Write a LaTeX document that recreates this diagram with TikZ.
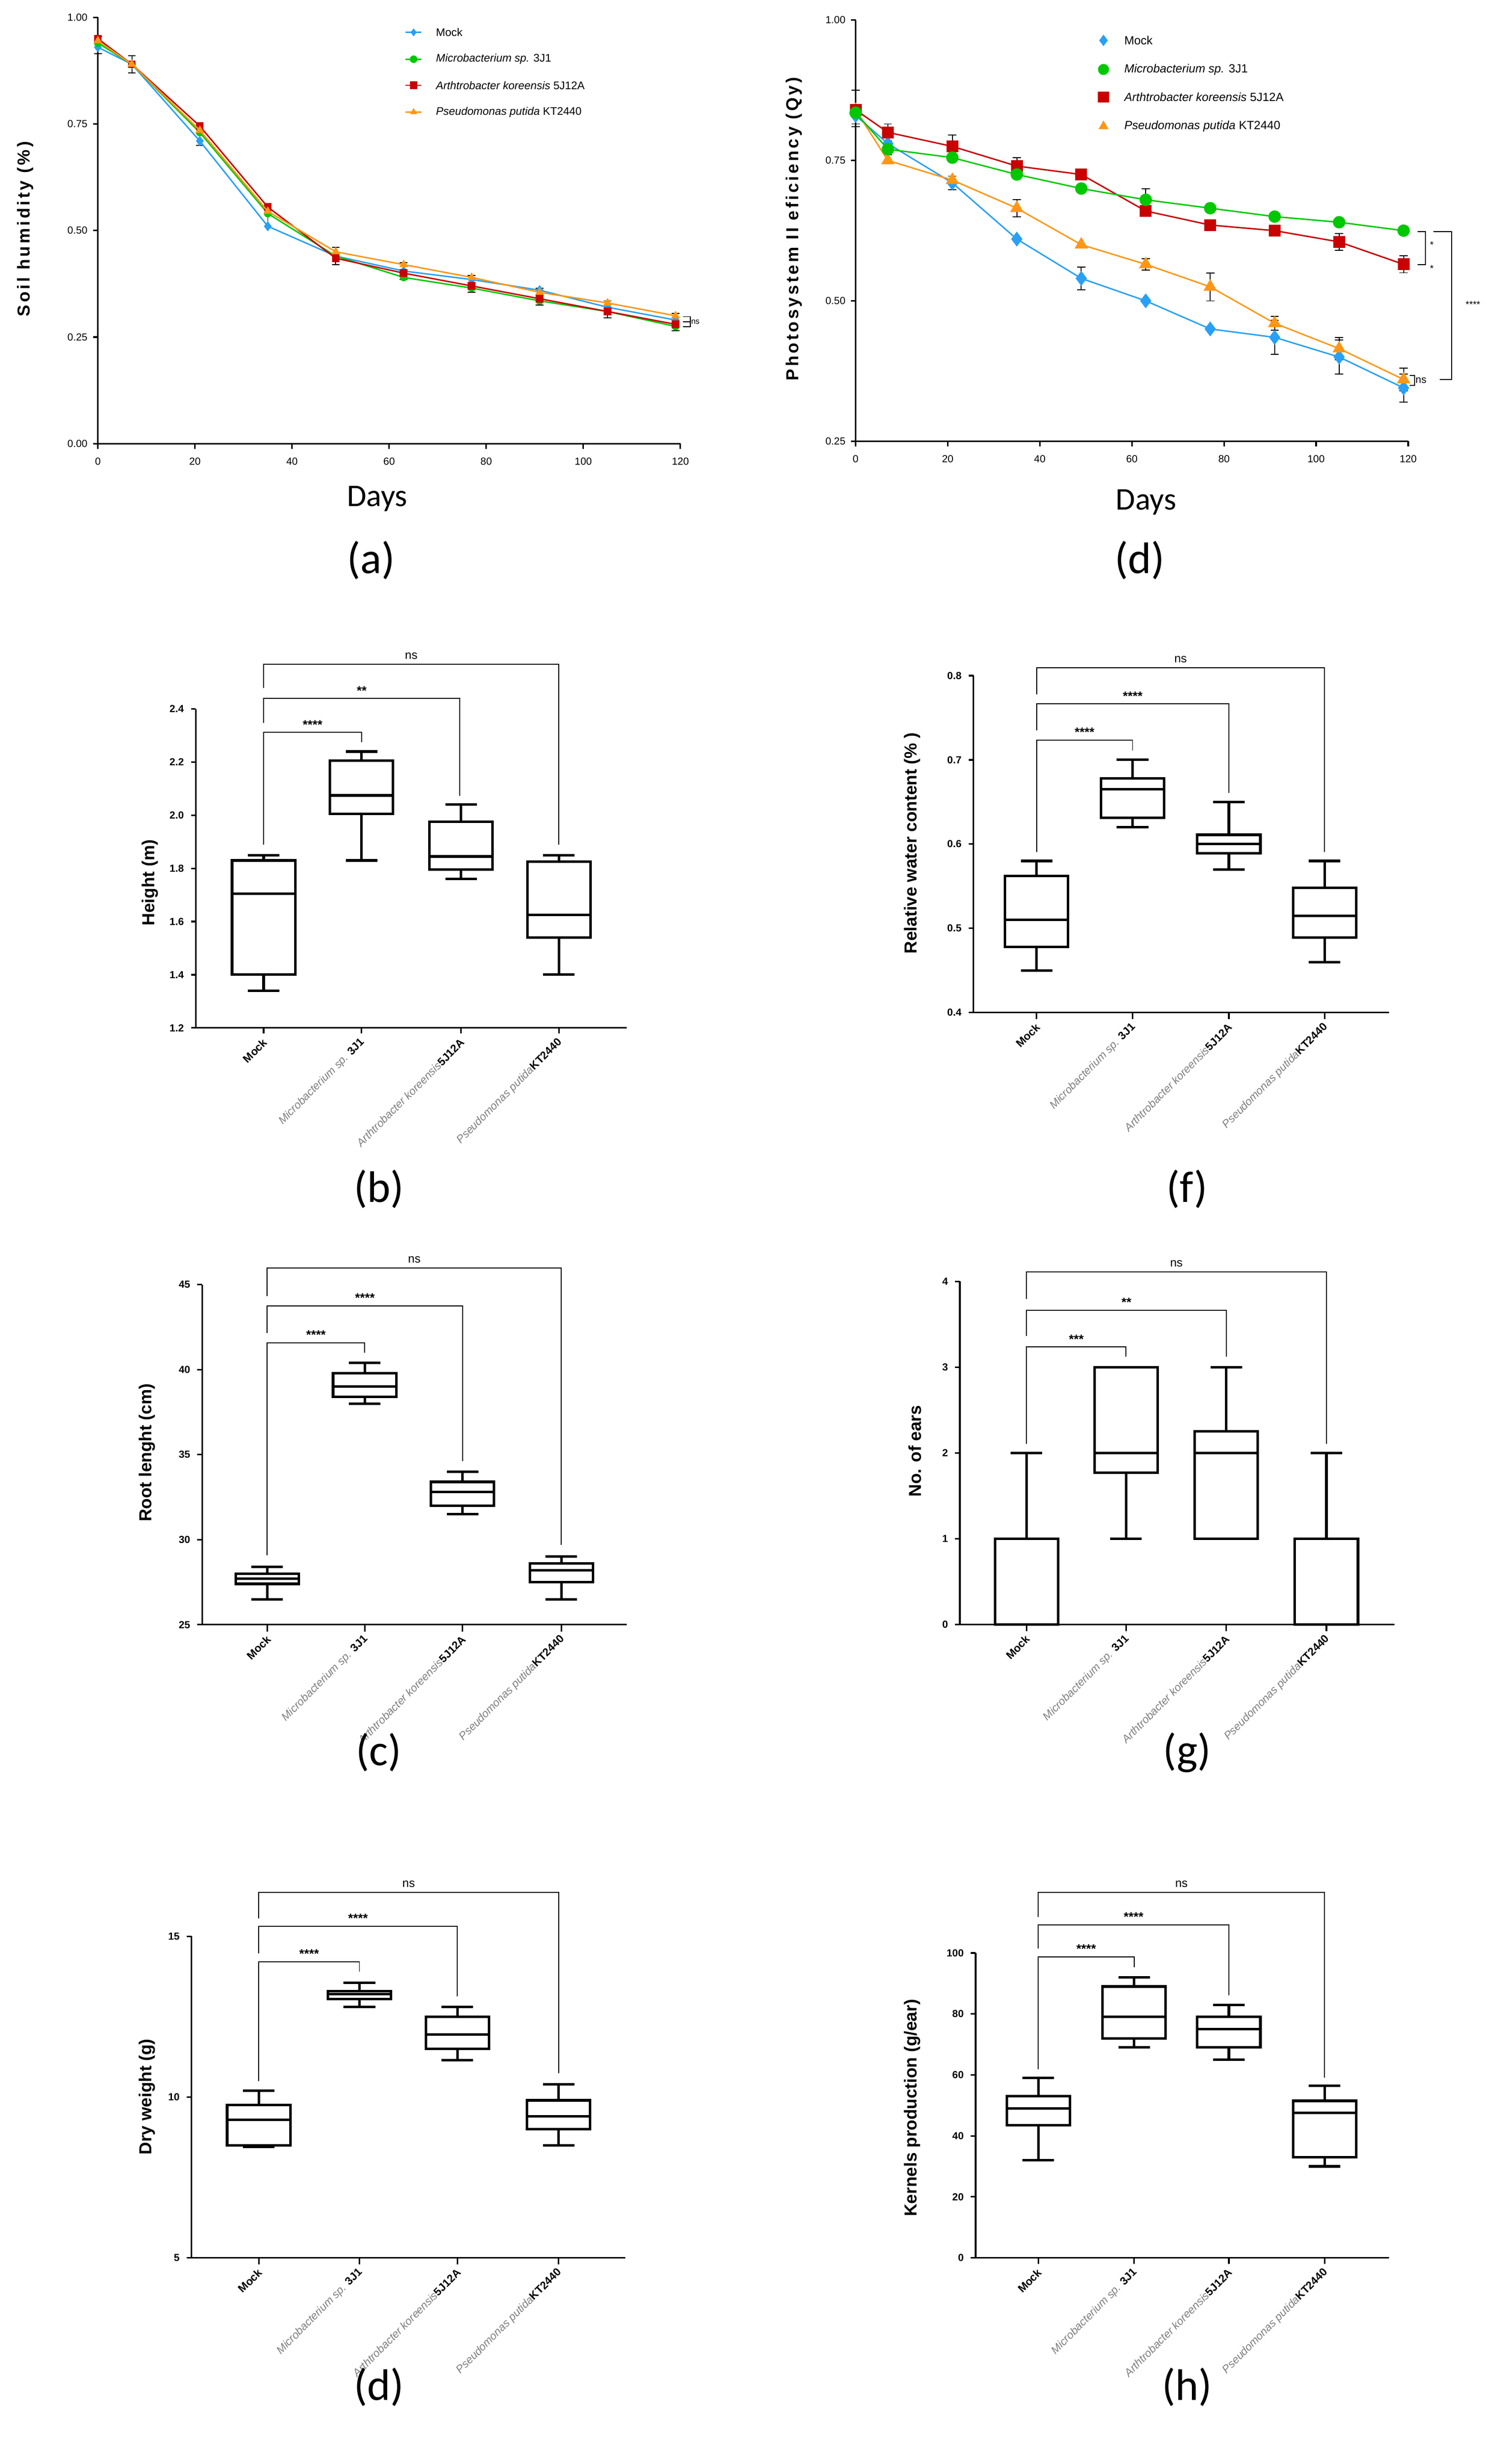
\documentclass[tikz,border=0pt]{standalone}
\usepackage{fontspec}
\setmainfont{Liberation Sans}
\newfontfamily\carl{Carlito}
\newfontfamily\spaced{Liberation Sans}[LetterSpace=14]
\usetikzlibrary{plotmarks}
\definecolor{cMock}{RGB}{40,160,245}
\definecolor{cMic}{RGB}{0,200,0}
\definecolor{cArt}{RGB}{200,0,0}
\definecolor{cPse}{RGB}{255,150,20}
\tikzset{
 axl/.style={line width=1pt,black},
 boxl/.style={line width=1.6pt,black},
 brk/.style={line width=0.6pt,black},
 tk/.style={font=\fontsize{6.5}{7}\selectfont\bfseries},
 ltk/.style={font=\fontsize{6.5}{7}\selectfont},
 cat/.style={rotate=45,anchor=east,inner sep=0pt,font=\fontsize{7}{7}\selectfont},
 ylab/.style={rotate=90,font=\fontsize{11}{12}\selectfont\bfseries},
 plab/.style={font=\carl\fontsize{28}{30}\selectfont},
 star/.style={font=\fontsize{8}{9}\selectfont\bfseries,inner sep=1pt},
 ser/.style={line width=0.9pt},
}
\newcommand\bx[6]{%
 \draw[boxl] (#1-10,#2) -- (#1+10,#2) (#1,#2) -- (#1,#3) (#1,#5) -- (#1,#6) (#1-10,#6) -- (#1+10,#6);
 \draw[boxl] (#1-20,#3) rectangle (#1+20,#5);
 \draw[boxl] (#1-20,#4) -- (#1+20,#4);}
\newcommand\cats[5]{%
 \node[cat] (m#1) at (#2+1,#1+8) {\textbf{Mock}};
 \node[cat] (b#1) at (#3+1,#1+8) {\textcolor{gray}{\textit{Microbacterium sp.}} \textbf{3J1}};
 \node[cat] (c#1) at (#4+1,#1+8) {\textcolor{gray}{\textit{Arthtrobacter koreensis}}\textbf{5J12A}};
 \node[cat] (d#1) at (#5+1,#1+8) {\textcolor{gray}{\textit{Pseudomonas putida}}\textbf{KT2440}};}
\newcommand\brackets[9]{%
 \foreach \ae/\pe/\me/\sa/\sb/\ga/\gb in {#9}{
 \draw[brk] (#1,\ga) -- (#1,#5) -- (#4,#5) -- (#4,\pe);
 \draw[brk] (#1,\gb) -- (#1,#6) -- (#3,#6) -- (#3,\ae);
 \draw[brk] (#1,\me) -- (#1,#7) -- (#2,#7) -- (#2,#8);
 \node[font=\fontsize{7.5}{8}\selectfont,anchor=south,inner sep=1pt] at ({(#1+#4)/2},#5-2) {ns};
 \node[star,anchor=south] at ({(#1+#3)/2},#6-1) {\sa};
 \node[star,anchor=south] at ({(#1+#2)/2},#7-1) {\sb};
 }}
\begin{document}
\begin{tikzpicture}[x=1pt,y=-1pt]
\useasboundingbox (0,0) rectangle (945,1560.6);
\fill[white] (0,0) rectangle (945,1560.6);

%================ (a)
\begin{scope}[shift={(62,281)},x=3.075pt,y=270pt]
 \draw[axl] (0,1) -- (0,0) -- (120,0);
 \foreach \t in {0.00,0.25,0.50,0.75,1.00}{\draw[axl] (0,\t) -- (-1,\t); \node[ltk,anchor=east] at (-1,\t) {\t};}
 \foreach \t in {0,20,40,60,80,100,120}{\draw[axl] (\t,0) -- (\t,-0.012); \node[ltk,anchor=north] at (\t,-0.02) {\t};}
 \foreach \d/\v in {0/.935,7/.89,21/.72,35/.53,49/.44,63/.405,77/.375,91/.345,105/.315,119/.285}{\draw[brk] (\d,\v-.02) -- (\d,\v+.02) (\d-0.8,\v-.02) -- (\d+0.8,\v-.02) (\d-0.8,\v+.02) -- (\d+0.8,\v+.02);}
 \draw[ser,cMock] plot[mark=diamond*,mark size=2.5pt] coordinates {(0,.93)(7,.89)(21,.71)(35,.51)(49,.44)(63,.405)(77,.385)(91,.36)(105,.32)(119,.29)};
 \draw[ser,cMic] plot[mark=*,mark size=2pt] coordinates {(0,.94)(7,.89)(21,.73)(35,.54)(49,.44)(63,.39)(77,.365)(91,.335)(105,.31)(119,.275)};
 \draw[ser,cArt] plot[mark=square*,mark size=2pt] coordinates {(0,.95)(7,.89)(21,.745)(35,.555)(49,.435)(63,.40)(77,.37)(91,.34)(105,.31)(119,.28)};
 \draw[ser,cPse] plot[mark=triangle*,mark size=2.3pt] coordinates {(0,.945)(7,.89)(21,.735)(35,.545)(49,.45)(63,.42)(77,.39)(91,.355)(105,.33)(119,.30)};
 \draw[brk] (120.5,.298) -- (122,.298) -- (122,.274) -- (120.5,.274) (120.5,.286) -- (122,.286);
 \node[font=\fontsize{5}{5}\selectfont,anchor=west,inner sep=0.5pt] at (122,.286) {ns};
\end{scope}
\node[ylab,font=\spaced\fontsize{11}{12}\selectfont\bfseries] (ya) at (16,145) {Soil humidity (\%)};
\node[font=\carl\fontsize{20}{21}\selectfont] (da) at (239,316) {Days};
\node[plab] (la) at (235,355) {(a)};
\foreach \c/\m/\y/\t in {cMock/diamond*/20.5/{Mock},cMic/*/37.5/{\textit{Microbacterium sp.} 3J1},cArt/square*/54/{\textit{Arthtrobacter koreensis} 5J12A},cPse/triangle*/71/{\textit{Pseudomonas putida} KT2440}}{
 \draw[ser,\c] (257,\y) -- (267,\y);
 \path[\c] plot[mark=\m,mark size=2.2pt] coordinates {(262,\y)};
 \node[anchor=west,font=\fontsize{7}{8}\selectfont,inner sep=0pt] at (276,\y) {\t};}

%================ (d) top
\begin{scope}[shift={(542,368.4)},x=2.9167pt,y=355.7pt]
 \draw[axl] (0,1) -- (0,0.25) -- (120,0.25);
 \foreach \t in {0.25,0.50,0.75,1.00}{\draw[axl] (0,\t) -- (-1,\t); \node[ltk,anchor=east] at (-1,\t) {\t};}
 \foreach \t in {0,20,40,60,80,100,120}{\draw[axl] (\t,0.25) -- (\t,0.241); \node[ltk,anchor=north] at (\t,0.235) {\t};}
 \foreach \d/\v/\e in {0/.83/.02,49/.54/.02,91/.435/.03,105/.40/.03,119/.345/.025,35/.665/.015,77/.525/.025,119/.36/.02,63/.565/.01,7/.80/.015,21/.775/.02,35/.74/.015,49/.725/.01,0/.845/.03,119/.565/.015,105/.605/.015,63/.68/.02,21/.71/.012,91/.46/.012,105/.415/.02,7/.775/.015}{\draw[brk] (\d,\v-\e) -- (\d,\v+\e) (\d-0.9,\v-\e) -- (\d+0.9,\v-\e) (\d-0.9,\v+\e) -- (\d+0.9,\v+\e);}
 \draw[ser,cMock] plot[mark=diamond*,mark size=4pt] coordinates {(0,.83)(7,.78)(21,.71)(35,.61)(49,.54)(63,.50)(77,.45)(91,.435)(105,.40)(119,.345)};
 \draw[ser,cPse] plot[mark=triangle*,mark size=4pt] coordinates {(0,.84)(7,.75)(21,.715)(35,.665)(49,.60)(63,.565)(77,.525)(91,.46)(105,.415)(119,.36)};
 \draw[ser,cArt] plot[mark=square*,mark size=3.3pt] coordinates {(0,.84)(7,.80)(21,.775)(35,.74)(49,.725)(63,.66)(77,.635)(91,.625)(105,.605)(119,.565)};
 \draw[ser,cMic] plot[mark=*,mark size=3.5pt] coordinates {(0,.835)(7,.77)(21,.755)(35,.725)(49,.70)(63,.68)(77,.665)(91,.65)(105,.64)(119,.625)};
\end{scope}
\draw[brk] (898,146.6) -- (903,146.6) -- (903,167.7) -- (898,167.7);
\node[font=\fontsize{6}{6}\selectfont,inner sep=0pt] (s1) at (907,155) {*};
\node[font=\fontsize{6}{6}\selectfont,inner sep=0pt] (s2) at (907,170) {*};
\draw[brk] (908,146.6) -- (919.5,146.6) -- (919.5,240.3) -- (912,240.3);
\node[font=\fontsize{6}{6}\selectfont,inner sep=0pt] (s4) at (933,193) {****};
\draw[brk] (893,237.8) -- (896,237.8) -- (896,244) -- (893,244);
\node[font=\fontsize{6.5}{7}\selectfont,inner sep=0.5pt,anchor=west] (ns1) at (896,241) {ns};
\node[ylab,font=\spaced\fontsize{11}{12}\selectfont\bfseries] (yd) at (503,145) {Photosystem II eficiency (Qy)};
\node[font=\carl\fontsize{20}{21}\selectfont] (dd) at (726,318) {Days};
\node[plab] (ld) at (722,355) {(d)};
\foreach \c/\m/\y/\t in {cMock/diamond*/25.6/{Mock},cMic/*/44/{\textit{Microbacterium sp.} 3J1},cArt/square*/61.5/{\textit{Arthtrobacter koreensis} 5J12A},cPse/triangle*/80/{\textit{Pseudomonas putida} KT2440}}{
 \path[\c] plot[mark=\m,mark size=3.3pt] coordinates {(699,\y)};
 \node[anchor=west,font=\fontsize{7.5}{8}\selectfont,inner sep=0pt] at (712,\y) {\t};}

%================ (b)
\begin{scope}[shift={(0,852.96)},y=168.3pt]
 \draw[axl] (124,2.4) -- (124,1.2) -- (397,1.2);
 \foreach \t in {1.2,1.4,1.6,1.8,2.0,2.2,2.4}{\draw[axl] (124,\t) -- (121,\t); \node[tk,anchor=east] at (120,\t) {\t};}
 \foreach \x in {167,229,292,354}{\draw[axl] (\x,1.2) -- (\x,1.18);}
 \bx{167}{1.34}{1.40}{1.705}{1.83}{1.85}
 \bx{229}{1.83}{2.005}{2.075}{2.205}{2.24}
 \bx{292}{1.76}{1.795}{1.845}{1.975}{2.04}
 \bx{354}{1.40}{1.54}{1.625}{1.825}{1.85}
\end{scope}
\brackets{167}{229}{291.3}{354}{420.8}{442.4}{463.9}{470}{{504/535/535/**/****/435.6/458}}
\cats{651}{167}{229}{292}{354}
\node[ylab] (yb) at (95,559) {Height (m)};
\node[plab] (lb) at (240,753) {(b)};

%================ (f)
\begin{scope}[shift={(0,854.7)},y=533.5pt]
 \draw[axl] (616.6,0.8) -- (616.6,0.4) -- (880,0.4);
 \foreach \t in {0.4,0.5,0.6,0.7,0.8}{\draw[axl] (616.6,\t) -- (613.6,\t); \node[tk,anchor=east] at (612.6,\t) {\t};}
 \foreach \x in {656.6,717.4,778.4,839.1}{\draw[axl] (\x,0.4) -- (\x,0.392);}
 \bx{656.6}{.45}{.478}{.51}{.562}{.58}
 \bx{717.4}{.62}{.631}{.665}{.678}{.70}
 \bx{778.4}{.57}{.589}{.60}{.611}{.65}
 \bx{839.1}{.46}{.489}{.515}{.548}{.58}
\end{scope}
\brackets{656.6}{717.4}{778.4}{839.1}{422.8}{445.8}{468.8}{475.3}{{502.3/539.6/539.6/****/****/439.7/462.5}}
\cats{641.3}{656.6}{717.4}{778.4}{839.1}
\node[ylab] (yf) at (578,534) {Relative water content (\% )};
\node[plab] (lf) at (752,753) {(f)};

%================ (c)
\begin{scope}[shift={(0,1298.25)},y=10.77pt]
 \draw[axl] (128,45) -- (128,25) -- (397,25);
 \foreach \t in {25,30,35,40,45}{\draw[axl] (128,\t) -- (125,\t); \node[tk,anchor=east] at (124,\t) {\t};}
 \foreach \x in {169.3,231,293,355.6}{\draw[axl] (\x,25) -- (\x,24.6);}
 \bx{169.3}{26.5}{27.4}{27.7}{28.0}{28.4}
 \bx{231}{38.0}{38.4}{39.0}{39.8}{40.4}
 \bx{293}{31.5}{32.0}{32.8}{33.4}{34.0}
 \bx{355.6}{26.5}{27.5}{28.2}{28.6}{29.0}
\end{scope}
\brackets{169.3}{231}{293}{355.6}{803}{827}{850.4}{856.7}{{925.5/978.5/985/****/****/821/844.4}}
\cats{1029}{169.3}{231}{293}{355.6}
\node[ylab] (yc) at (93,920) {Root lenght (cm)};
\node[plab] (lc) at (240,1110) {(c)};

%================ (g)
\begin{scope}[shift={(0,1028.8)},y=54.3pt]
 \draw[axl] (608,4) -- (608,0) -- (883.2,0);
 \foreach \t in {0,1,2,3,4}{\draw[axl] (608,\t) -- (605,\t); \node[tk,anchor=east] at (604,\t) {\t};}
 \foreach \x in {650.2,713.3,776.8,840.2}{\draw[axl] (\x,0) -- (\x,-0.08);}
 \bx{650.2}{0}{0}{1}{1}{2}
 \bx{713.3}{1}{1.77}{2}{3}{3}
 \bx{776.8}{1}{1}{2}{2.25}{3}
 \bx{840.2}{0}{0}{1}{1}{2}
\end{scope}
\brackets{650.2}{713.3}{776.8}{840.2}{805.7}{829.9}{853.1}{859.4}{{859.4/914.4/914.4/**/***/822.7/846}}
\cats{1028.8}{650.2}{713.3}{776.8}{840.2}
\node[ylab] (yg) at (579.5,919) {No. of ears};
\node[plab] (lg) at (752,1110) {(g)};

%================ (d) bottom
\begin{scope}[shift={(0,1531.8)},y=20.36pt]
 \draw[axl] (121.3,15) -- (121.3,5) -- (396,5);
 \foreach \t in {5,10,15}{\draw[axl] (121.3,\t) -- (118.3,\t); \node[tk,anchor=east] at (117.3,\t) {\t};}
 \foreach \x in {163.9,227.7,289.7,353.8}{\draw[axl] (\x,5) -- (\x,4.8);}
 \bx{163.9}{8.45}{8.5}{9.3}{9.75}{10.2}
 \bx{227.7}{12.8}{13.05}{13.2}{13.3}{13.55}
 \bx{289.7}{11.15}{11.5}{11.95}{12.5}{12.8}
 \bx{353.8}{8.5}{9.0}{9.4}{9.9}{10.4}
\end{scope}
\brackets{163.9}{227.7}{289.7}{353.8}{1198.4}{1220}{1242.5}{1248.7}{{1264.4/1313.1/1318/****/****/1215.2/1237.1}}
\cats{1430}{163.9}{227.7}{289.7}{353.8}
\node[ylab] (yd2) at (93,1328) {Dry weight (g)};
\node[plab] (ld2) at (240,1512) {(d)};

%================ (h)
\begin{scope}[shift={(0,1430)},y=1.931pt]
 \draw[axl] (618,100) -- (618,0) -- (880,0);
 \foreach \t in {0,20,40,60,80,100}{\draw[axl] (618,\t) -- (615,\t); \node[tk,anchor=east] at (614,\t) {\t};}
 \foreach \x in {657.7,718.4,778.4,839.1}{\draw[axl] (\x,0) -- (\x,-2);}
 \bx{657.7}{32}{43.5}{49}{53}{59}
 \bx{718.4}{69}{72}{79}{89}{92}
 \bx{778.4}{65}{69}{75}{79}{83}
 \bx{839.1}{30}{33}{47.5}{51.5}{56.5}
\end{scope}
\brackets{657.7}{718.4}{778.4}{839.1}{1198.4}{1219}{1239.4}{1246}{{1263.7/1315.8/1310.6/****/****/1214.1/1234.2}}
\cats{1430}{657.7}{718.4}{778.4}{839.1}
\node[ylab] (yh) at (578,1335) {Kernels production (g/ear)};
\node[plab] (lh) at (752,1512) {(h)};
\end{tikzpicture}
\end{document}
